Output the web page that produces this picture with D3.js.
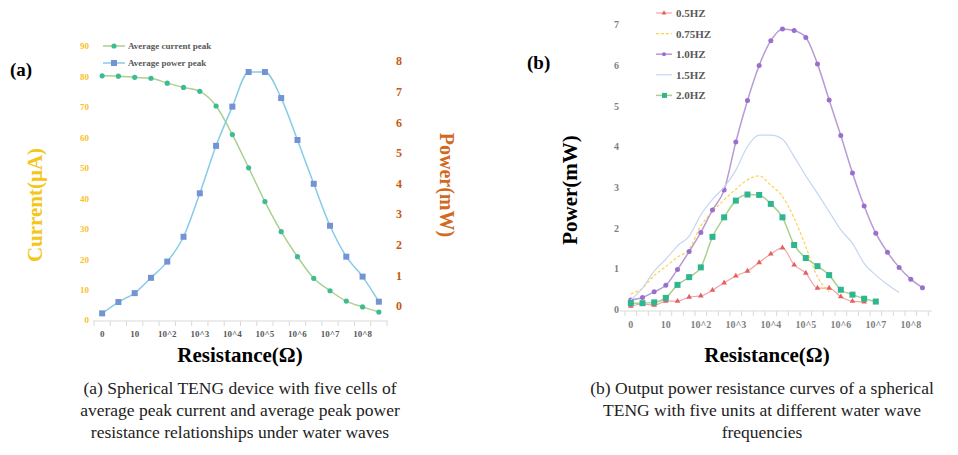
<!DOCTYPE html>
<html>
<head>
<meta charset="utf-8">
<script src="https://cdn.jsdelivr.net/npm/d3@7"></script>
<style>
  body { margin: 0; background: #fff; }
  svg { font-family: "Liberation Serif", "Times New Roman", serif; }
</style>
</head>
<body>
<script>
// Datos de la gráfica (a)
var ticksA = ["0", "10", "10^2", "10^3", "10^4", "10^5", "10^6", "10^7", "10^8"];
var currentA = [80.2, 80.1, 79.7, 79.4, 77.8, 76.4, 75.1, 70.3, 60.9, 50.0, 38.9, 29.0, 20.8, 13.7, 9.6, 6.2, 4.3, 2.6];
var powerA = [-0.24, 0.13, 0.42, 0.92, 1.45, 2.26, 3.68, 5.23, 6.51, 7.64, 7.64, 6.79, 5.42, 3.99, 2.62, 1.61, 0.96, 0.14];

// Datos de la gráfica (b)
var ticksB = ["0", "10", "10^2", "10^3", "10^4", "10^5", "10^6", "10^7", "10^8"];
var hz05 = [0.08, 0.13, 0.10, 0.20, 0.20, 0.30, 0.33, 0.47, 0.65, 0.82, 0.94, 1.15, 1.36, 1.51, 1.09, 0.89, 0.52, 0.52, 0.31, 0.20, 0.18];
var hz075 = [0.38, 0.52, 0.83, 1.05, 1.28, 1.48, 2.05, 2.40, 2.69, 2.95, 3.18, 3.28, 3.05, 2.77, 2.24, 1.54, 0.80, 0.43];
var hz10 = [0.23, 0.29, 0.43, 0.59, 0.98, 1.42, 1.89, 2.44, 2.93, 4.11, 5.13, 5.99, 6.60, 6.89, 6.85, 6.68, 6.03, 5.14, 4.27, 3.35, 2.54, 1.87, 1.40, 1.03, 0.74, 0.53];
var hz15 = [0.23, 0.52, 0.94, 1.23, 1.56, 1.80, 2.32, 2.70, 3.00, 3.42, 4.00, 4.28, 4.28, 4.18, 3.75, 3.28, 2.85, 2.40, 1.95, 1.62, 1.13, 0.84, 0.61, 0.41];
var hz20 = [0.15, 0.15, 0.17, 0.28, 0.60, 0.79, 1.03, 1.78, 2.26, 2.67, 2.82, 2.81, 2.59, 2.26, 1.58, 1.26, 1.06, 0.84, 0.48, 0.36, 0.26, 0.19];
var legendB = ["0.5HZ", "0.75HZ", "1.0HZ", "1.5HZ", "2.0HZ"];

var svg = d3.select("body").append("svg")
  .attr("width", 958)
  .attr("height", 455);

// ---------- Gráfica (a) ----------
var xA = d3.scaleBand().domain(d3.range(currentA.length)).range([94, 387]);
var yL = d3.scaleLinear().domain([0, 90]).range([320, 46]);
var yR = d3.scaleLinear().domain([0, 8]).range([306, 61]);

// eje X
svg.append("line")
  .attr("x1", 93).attr("x2", 388).attr("y1", 321).attr("y2", 321)
  .attr("stroke", "#d9d9d9");
svg.append("g").selectAll("line")
  .data(d3.range(currentA.length + 1))
  .enter().append("line")
  .attr("x1", d => xA(0) + d * xA.step()).attr("x2", d => xA(0) + d * xA.step())
  .attr("y1", 321).attr("y2", 326)
  .attr("stroke", "#d9d9d9");
svg.append("g").selectAll("text")
  .data(ticksA)
  .enter().append("text")
  .attr("x", (d, i) => xA(i * 2) + xA.bandwidth() / 2)
  .attr("y", 337)
  .attr("text-anchor", "middle")
  .attr("font-size", 9)
  .attr("font-weight", "bold")
  .attr("fill", "#595959")
  .text(d => d);

// eje Y izquierdo
var axL = svg.append("g")
  .attr("transform", "translate(89,0)")
  .call(d3.axisLeft(yL).tickValues(d3.range(0, 91, 10)).tickSize(0).tickPadding(0));
axL.select(".domain").remove();
axL.selectAll("text")
  .attr("font-family", "Liberation Serif")
  .attr("font-size", 9)
  .attr("font-weight", "bold")
  .attr("fill", "#fbc02d");

// eje Y derecho
var axR = svg.append("g")
  .attr("transform", "translate(396,0)")
  .call(d3.axisRight(yR).ticks(8).tickSize(0).tickPadding(0));
axR.select(".domain").remove();
axR.selectAll("text")
  .attr("font-family", "Liberation Serif")
  .attr("font-size", 12)
  .attr("font-weight", "bold")
  .attr("fill", "#c55a11");

var cx = (d, i) => xA(i) + xA.bandwidth() / 2;

// línea corriente
svg.append("path")
  .datum(currentA)
  .attr("fill", "none")
  .attr("stroke", "#a9d18e")
  .attr("stroke-width", 1.5)
  .attr("d", d3.line().x(cx).y(d => yL(d)).curve(d3.curveMonotoneX));

// línea potencia
svg.append("path")
  .datum(powerA)
  .attr("fill", "none")
  .attr("stroke", "#86cbe8")
  .attr("stroke-width", 1.5)
  .attr("d", d3.line().x(cx).y(d => yR(d)).curve(d3.curveMonotoneX));

svg.append("g").selectAll("circle")
  .data(currentA)
  .enter().append("circle")
  .attr("cx", cx)
  .attr("cy", d => yL(d))
  .attr("r", 2.6)
  .attr("fill", "#3dbb94");

svg.append("g").selectAll("rect")
  .data(powerA)
  .enter().append("rect")
  .attr("x", (d, i) => cx(d, i) - 3)
  .attr("y", d => yR(d) - 3)
  .attr("width", 6).attr("height", 6)
  .attr("fill", "#7493d3");

// leyenda (a)
var legA = [["Average current peak", "#a9d18e", "#3dbb94", "c"], ["Average power peak", "#86cbe8", "#7493d3", "s"]];
legA.forEach(function (l, i) {
  var ly = 46 + i * 17;
  svg.append("line").attr("x1", 103).attr("x2", 125).attr("y1", ly).attr("y2", ly)
    .attr("stroke", l[1]).attr("stroke-width", 1.5);
  if (l[3] == "c") {
    svg.append("circle").attr("cx", 114).attr("cy", ly).attr("r", 2.6).attr("fill", l[2]);
  } else {
    svg.append("rect").attr("x", 111).attr("y", ly - 3).attr("width", 6).attr("height", 6).attr("fill", l[2]);
  }
  svg.append("text").attr("x", 128).attr("y", ly + 3)
    .attr("font-size", 9).attr("font-weight", "bold").attr("fill", "#595959")
    .text(l[0]);
});

// títulos (a)
svg.append("text").attr("x", 10).attr("y", 76)
  .attr("font-size", 19).attr("font-weight", "bold").text("(a)");
svg.append("text")
  .attr("transform", "translate(42,205) rotate(-90)")
  .attr("text-anchor", "middle")
  .attr("font-size", 21).attr("font-weight", "bold").attr("fill", "#f5c518")
  .text("Current(μA)");
svg.append("text")
  .attr("transform", "translate(440,185) rotate(90)")
  .attr("text-anchor", "middle")
  .attr("font-size", 20).attr("font-weight", "bold").attr("fill", "#d2691e")
  .text("Power(mW)");
svg.append("text").attr("x", 240).attr("y", 362)
  .attr("text-anchor", "middle")
  .attr("font-size", 21).attr("font-weight", "bold").text("Resistance(Ω)");

// ---------- Gráfica (b) ----------
var xB = d3.scaleBand().domain(d3.range(hz10.length)).range([625, 928.3]);
var yB = d3.scaleLinear().domain([0, 7]).range([309.3, 24.4]);
var bx = (d, i) => xB(i) + xB.bandwidth() / 2;

svg.append("line")
  .attr("x1", 620).attr("x2", 932).attr("y1", 311).attr("y2", 311)
  .attr("stroke", "#d9d9d9");
svg.append("g").selectAll("line")
  .data(d3.range(hz10.length + 1))
  .enter().append("line")
  .attr("x1", d => xB(0) + d * xB.step()).attr("x2", d => xB(0) + d * xB.step())
  .attr("y1", 311).attr("y2", 316)
  .attr("stroke", "#d9d9d9");
svg.append("g").selectAll("text")
  .data(ticksB)
  .enter().append("text")
  .attr("x", (d, i) => xB(i * 3) + xB.bandwidth() / 2)
  .attr("y", 328)
  .attr("text-anchor", "middle")
  .attr("font-size", 10)
  .attr("font-weight", "bold")
  .attr("fill", "#7f7f7f")
  .text(d => d);

var axB = svg.append("g")
  .attr("transform", "translate(619,0)")
  .call(d3.axisLeft(yB).ticks(7).tickSize(0).tickPadding(0));
axB.select(".domain").remove();
axB.selectAll("text")
  .attr("font-family", "Liberation Serif")
  .attr("font-size", 10)
  .attr("font-weight", "bold")
  .attr("fill", "#7f7f7f");

var lineB = d3.line().x(bx).y(d => yB(d)).curve(d3.curveMonotoneX);

var seriesB = [
  { name: legendB[0], data: hz05, line: "#f2a3a3", mark: "#e46060", w: 1.2, dash: null, m: "t" },
  { name: legendB[1], data: hz075, line: "#fcd24f", mark: null, w: 1.2, dash: "3,2", m: null },
  { name: legendB[2], data: hz10, line: "#b89bd6", mark: "#9a6fcc", w: 1.5, dash: null, m: "c" },
  { name: legendB[3], data: hz15, line: "#c5d6f0", mark: null, w: 1.2, dash: null, m: null },
  { name: legendB[4], data: hz20, line: "#a9d18e", mark: "#2fb58f", w: 1.5, dash: null, m: "s" }
];

seriesB.forEach(function (s) {
  svg.append("path")
    .datum(s.data)
    .attr("fill", "none")
    .attr("stroke", s.line)
    .attr("stroke-width", s.w)
    .attr("stroke-dasharray", s.dash)
    .attr("d", lineB);
  var g = svg.append("g");
  if (s.m == "c") {
    g.selectAll("circle").data(s.data).enter().append("circle")
      .attr("cx", bx).attr("cy", d => yB(d)).attr("r", 2.5).attr("fill", s.mark);
  } else if (s.m == "s") {
    g.selectAll("rect").data(s.data).enter().append("rect")
      .attr("x", (d, i) => bx(d, i) - 3).attr("y", d => yB(d) - 3)
      .attr("width", 6).attr("height", 6).attr("fill", s.mark);
  } else if (s.m == "t") {
    g.selectAll("path").data(s.data).enter().append("path")
      .attr("transform", (d, i) => "translate(" + bx(d, i) + "," + yB(d) + ")")
      .attr("d", d3.symbol(d3.symbolTriangle, 14))
      .attr("fill", s.mark);
  }
});

// leyenda (b)
seriesB.forEach(function (s, i) {
  var ly = 13 + i * 20.6;
  svg.append("line").attr("x1", 656).attr("x2", 672).attr("y1", ly).attr("y2", ly)
    .attr("stroke", s.line).attr("stroke-width", s.w).attr("stroke-dasharray", s.dash);
  if (s.m == "c") {
    svg.append("circle").attr("cx", 664).attr("cy", ly).attr("r", 2).attr("fill", s.mark);
  } else if (s.m == "s") {
    svg.append("rect").attr("x", 662).attr("y", ly - 2.5).attr("width", 5).attr("height", 5).attr("fill", s.mark);
  } else if (s.m == "t") {
    svg.append("path").attr("transform", "translate(664," + ly + ")")
      .attr("d", d3.symbol(d3.symbolTriangle, 10)).attr("fill", s.mark);
  }
  svg.append("text").attr("x", 676).attr("y", ly + 4)
    .attr("font-size", 11).attr("font-weight", "bold").attr("fill", "#595959")
    .text(s.name);
});

svg.append("text").attr("x", 527).attr("y", 69)
  .attr("font-size", 19).attr("font-weight", "bold").text("(b)");
svg.append("text")
  .attr("transform", "translate(577,190) rotate(-90)")
  .attr("text-anchor", "middle")
  .attr("font-size", 21).attr("font-weight", "bold")
  .text("Power(mW)");
svg.append("text").attr("x", 767).attr("y", 362)
  .attr("text-anchor", "middle")
  .attr("font-size", 21).attr("font-weight", "bold").text("Resistance(Ω)");

// pies de figura
var capA = ["(a) Spherical TENG device with five cells of",
  "average peak current and average peak power",
  "resistance relationships under water waves"];
var capB = ["(b) Output power resistance curves of a spherical",
  "TENG with five units at different water wave",
  "frequencies"];
capA.forEach(function (t, i) {
  svg.append("text").attr("x", 240).attr("y", 394 + i * 22)
    .attr("text-anchor", "middle").attr("font-size", 17.5).attr("fill", "#222").text(t);
});
capB.forEach(function (t, i) {
  svg.append("text").attr("x", 762).attr("y", 394 + i * 22)
    .attr("text-anchor", "middle").attr("font-size", 17.5).attr("fill", "#222").text(t);
});
</script>
</body>
</html>
